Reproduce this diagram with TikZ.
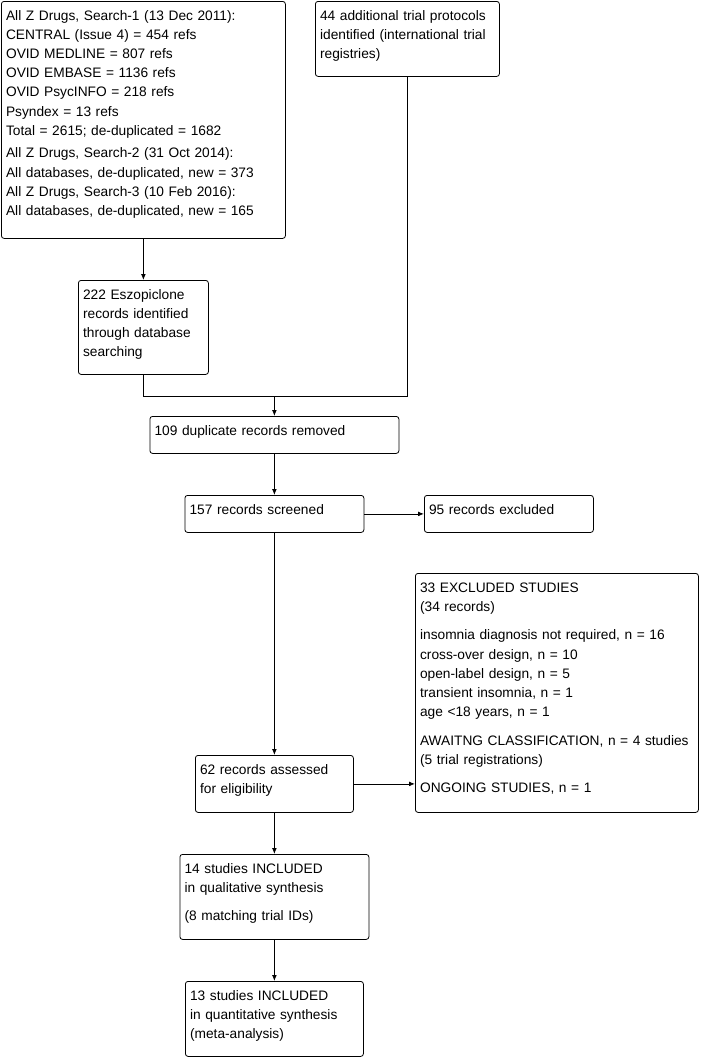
\documentclass[tikz,border=0pt]{standalone}
\usepackage{fontspec}
\setmainfont{Liberation Sans}
\usetikzlibrary{arrows.meta}
\tikzset{
  box/.style={draw,rounded corners=2pt,anchor=north west,align=left,
    inner xsep=3.5pt,inner ysep=3pt,text height=11pt,
    font=\fontsize{10.3}{14.4}\selectfont},
  arr/.style={-{Latex[length=4.5pt,width=3.6pt]}}
}
\begin{document}
\begin{tikzpicture}[x=0.75pt,y=-0.75pt,line width=0.6pt]
  \path[fill=white,use as bounding box] (0,0) rectangle (700,1057);
  \node[box,text width=206pt,text depth=160.75pt] (srch) at (1,1)
    {All Z Drugs, Search-1 (13 Dec 2011):\\CENTRAL (Issue 4) = 454 refs\\
     OVID MEDLINE = 807 refs\\OVID EMBASE = 1136 refs\\OVID PsycINFO = 218 refs\\
     Psyndex = 13 refs\\Total = 2615; de-duplicated = 1682\\[2.5pt]
     All Z Drugs, Search-2 (31 Oct 2014):\\All databases, de-duplicated, new = 373\\
     All Z Drugs, Search-3 (10 Feb 2016):\\All databases, de-duplicated, new = 165};
  \node[box,text width=131pt,text depth=39.25pt] (trial) at (315,1)
    {44 additional trial protocols\\identified (international trial\\registries)};
  \node[box,text width=90.5pt,text depth=53.5pt] (eszo) at (78,280)
    {222 Eszopiclone\\records identified\\through database\\searching};
  \node[box,text width=179.75pt,text depth=10.75pt] (dupl) at (149.5,416)
    {109 duplicate records removed};
  \node[box,text width=127.25pt,text depth=10.75pt] (scrn) at (184.5,495)
    {157 records screened};
  \node[box,text width=119.75pt,text depth=10.75pt] (excl) at (424,495)
    {95 records excluded};
  \node[box,text width=205.25pt,text depth=162.25pt] (exst) at (415,573)
    {33 EXCLUDED STUDIES\\(34 records)\\[7pt]
     insomnia diagnosis not required, n = 16\\cross-over design, n = 10\\
     open-label design, n = 5\\transient insomnia, n = 1\\age <18 years, n = 1\\[7pt]
     AWAITNG CLASSIFICATION, n = 4 studies\\(5 trial registrations)\\[7pt]
     ONGOING STUDIES, n = 1};
  \node[box,text width=111.5pt,text depth=25.75pt] (elig) at (195,755)
    {62 records assessed\\for eligibility};
  \node[box,text width=134.75pt,text depth=46.75pt] (qual) at (179.5,854)
    {14 studies INCLUDED\\in qualitative synthesis\\[7pt](8 matching trial IDs)};
  \node[box,text width=126.5pt,text depth=39.25pt] (quan) at (185,981)
    {13 studies INCLUDED\\in quantitative synthesis\\(meta-analysis)};
  \coordinate (merge) at (dupl.north |- 0,396);
  \draw[arr] (srch.south) -- (eszo.north);
  \draw (eszo.south) |- (merge);
  \draw (trial.south) |- (merge);
  \draw[arr] (merge) -- (dupl.north);
  \draw[arr] (dupl) -- (scrn);
  \draw[arr] (scrn) -- (excl);
  \draw[arr] (scrn) -- (elig);
  \draw[arr] (elig) -- (elig -| exst.west);
  \draw[arr] (elig) -- (qual);
  \draw[arr] (qual) -- (quan);
\end{tikzpicture}
\end{document}
